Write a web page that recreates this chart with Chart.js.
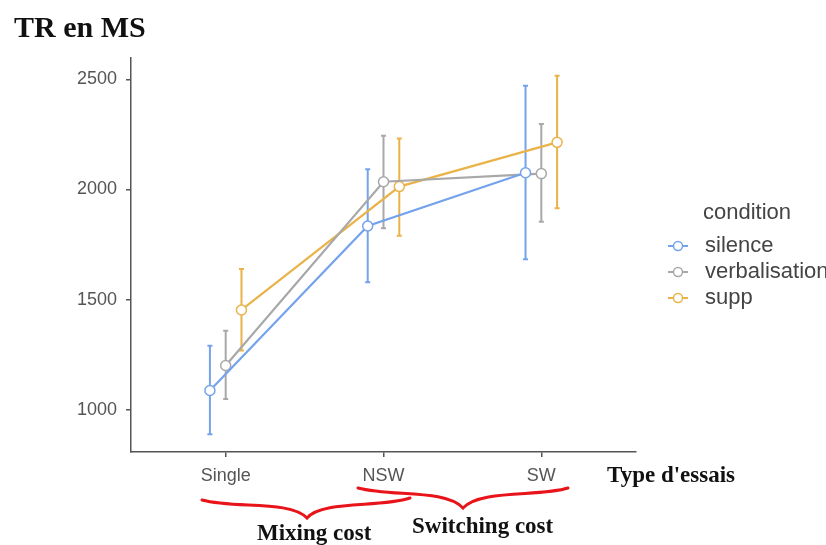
<!DOCTYPE html>
<html lang="fr">
<head>
    <meta charset="UTF-8">
    <title>TR en MS</title>
    <script src="https://cdn.jsdelivr.net/npm/chart.js"></script>
    <style>
        html, body { margin: 0; padding: 0; background: #fff; }
        canvas { display: block; }
    </style>
</head>
<body>
    <canvas id="chart" width="826" height="545"></canvas>

    <script>
        // valeurs (moyenne et bornes des barres d'erreur)
        const categories = ["Single", "NSW", "SW"];
        const conditions = ["silence", "verbalisation", "supp"];
        const silence = [1087, 1834, 2076];
        const silenceLow = [889, 1579, 1683];
        const silenceHigh = [1291, 2092, 2471];
        const verbal = [1201, 2035, 2072];
        const verbalLow = [1049, 1824, 1854];
        const verbalHigh = [1358, 2244, 2297];
        const supp = [1453, 2013, 2214];
        const suppLow = [1269, 1790, 1915];
        const suppHigh = [1639, 2232, 2516];
        const yTicks = [1000, 1500, 2000, 2500];

        const means = [silence, verbal, supp];
        const lows = [silenceLow, verbalLow, suppLow];
        const highs = [silenceHigh, verbalHigh, suppHigh];
        const dodge = [-0.1, 0, 0.1];
        const colors = ["#74a3ec", "#a8a8a8", "#eab34a"];
        const sans = "'Liberation Sans', Arial, sans-serif";
        const serif = "'Liberation Serif', 'Times New Roman', serif";

        const errorBars = {
            id: 'errorBars',
            beforeDatasetsDraw(chart) {
                const { ctx, scales: { x, y } } = chart;
                ctx.save();
                ctx.lineWidth = 2;
                lows.forEach((lo, k) => {
                    ctx.strokeStyle = colors[k];
                    lo.forEach((v, i) => {
                        const px = x.getPixelForValue(i + 1 + dodge[k]);
                        const y1 = y.getPixelForValue(v);
                        const y2 = y.getPixelForValue(highs[k][i]);
                        ctx.beginPath();
                        ctx.moveTo(px, y1); ctx.lineTo(px, y2);
                        ctx.moveTo(px - 2.5, y1); ctx.lineTo(px + 2.5, y1);
                        ctx.moveTo(px - 2.5, y2); ctx.lineTo(px + 2.5, y2);
                        ctx.stroke();
                    });
                });
                ctx.restore();
            }
        };

        const extras = {
            id: 'extras',
            afterDraw(chart) {
                const ctx = chart.ctx;
                ctx.save();
                // titre et textes ajoutés
                ctx.fillStyle = '#111';
                ctx.textBaseline = 'alphabetic';
                ctx.font = 'bold 30px ' + serif;
                ctx.fillText('TR en MS', 14, 37);
                ctx.font = 'bold 23px ' + serif;
                ctx.fillText("Type d'essais", 607, 482);
                ctx.fillText('Mixing cost', 257, 540);
                ctx.fillText('Switching cost', 412, 533);

                // légende
                ctx.fillStyle = '#444';
                ctx.textBaseline = 'middle';
                ctx.font = '22px ' + sans;
                ctx.fillText('condition', 703, 213);
                conditions.forEach((name, k) => {
                    const ly = 246 + k * 26;
                    ctx.strokeStyle = colors[k];
                    ctx.lineWidth = 2;
                    ctx.beginPath();
                    ctx.moveTo(668, ly); ctx.lineTo(688, ly);
                    ctx.stroke();
                    ctx.beginPath();
                    ctx.arc(678, ly, 4.5, 0, Math.PI * 2);
                    ctx.fillStyle = '#fff';
                    ctx.fill();
                    ctx.lineWidth = 1.5;
                    ctx.stroke();
                    ctx.fillStyle = '#444';
                    ctx.fillText(name, 705, ly);
                });

                // accolades rouges
                ctx.strokeStyle = '#e8141a';
                ctx.lineWidth = 3;
                ctx.lineCap = 'round';
                ctx.beginPath();
                ctx.moveTo(202, 500);
                ctx.bezierCurveTo(235, 509, 290, 500, 307, 518);
                ctx.bezierCurveTo(322, 500, 380, 508, 410, 498);
                ctx.stroke();
                ctx.beginPath();
                ctx.moveTo(358, 488);
                ctx.bezierCurveTo(392, 497, 445, 489, 463, 508);
                ctx.bezierCurveTo(480, 489, 540, 497, 568, 488);
                ctx.stroke();
                ctx.restore();
            }
        };

        const ctx = document.getElementById('chart').getContext('2d');
        new Chart(ctx, {
            type: 'line',
            data: {
                datasets: conditions.map((name, k) => ({
                    label: name,
                    data: categories.map((c, i) => ({ x: i + 1 + dodge[k], y: means[k][i] })),
                    borderColor: colors[k],
                    backgroundColor: '#fff',
                    borderWidth: 2.2,
                    pointRadius: 5,
                    pointBorderWidth: 1.5,
                    pointBackgroundColor: '#fff',
                    pointBorderColor: colors[k],
                    tension: 0
                }))
            },
            options: {
                responsive: false,
                animation: false,
                layout: { padding: { left: 0, right: 190, top: 58, bottom: 0 } },
                plugins: {
                    legend: { display: false },
                    tooltip: { enabled: false }
                },
                scales: {
                    x: {
                        type: 'linear',
                        min: 0.4,
                        max: 3.6,
                        afterBuildTicks: s => { s.ticks = categories.map((c, i) => ({ value: i + 1 })); },
                        afterFit: s => { s.height = 93; },
                        ticks: {
                            callback: v => categories[v - 1],
                            color: '#555',
                            font: { family: sans, size: 18 },
                            padding: 8,
                            maxRotation: 0,
                            autoSkip: false
                        },
                        grid: { drawOnChartArea: false, drawTicks: true, tickLength: 5, color: '#555', lineWidth: 1.5 },
                        border: { display: true, color: '#555', width: 1.5 }
                    },
                    y: {
                        min: 808,
                        max: 2597,
                        afterBuildTicks: s => { s.ticks = yTicks.map(v => ({ value: v })); },
                        afterFit: s => { s.width = 131; },
                        ticks: {
                            callback: v => String(v),
                            color: '#555',
                            font: { family: sans, size: 18 },
                            padding: 9
                        },
                        grid: { drawOnChartArea: false, drawTicks: true, tickLength: 5, color: '#555', lineWidth: 1.5 },
                        border: { display: true, color: '#555', width: 1.5 }
                    }
                }
            },
            plugins: [errorBars, extras]
        });
    </script>
</body>
</html>
